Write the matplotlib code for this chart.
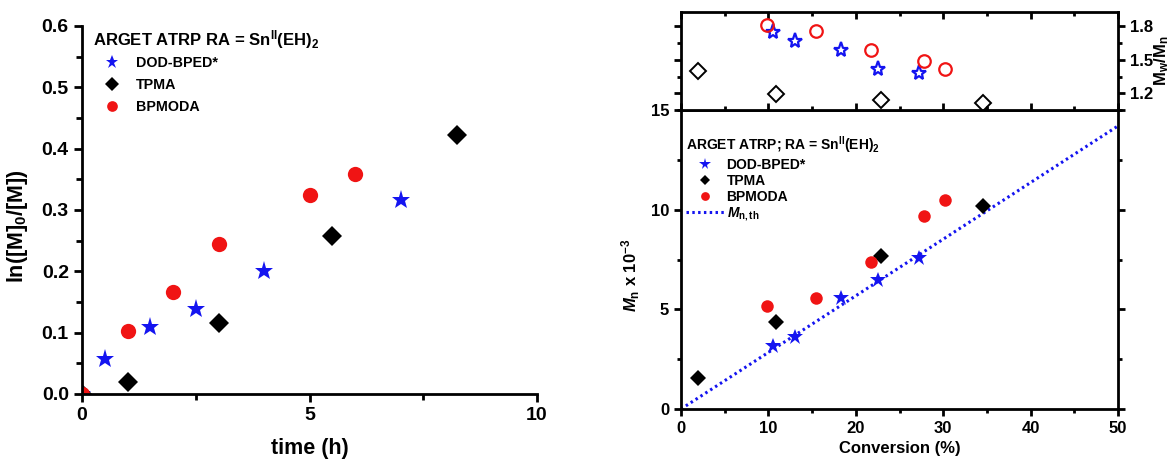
import matplotlib

matplotlib.use("Agg")
import matplotlib.pyplot as plt
from matplotlib.ticker import MultipleLocator

plt.rcParams["font.family"] = ["Liberation Sans", "DejaVu Sans"]
plt.rcParams["font.weight"] = "bold"
plt.rcParams["mathtext.fontset"] = "custom"
plt.rcParams["mathtext.rm"] = "Liberation Sans:bold"
plt.rcParams["mathtext.it"] = "Liberation Sans:italic:bold"
plt.rcParams["mathtext.bf"] = "Liberation Sans:bold"
plt.rcParams["mathtext.default"] = "rm"

# kinetics: ln([M]0/[M]) vs time
t_dod = [0, 0.5, 1.5, 2.5, 4.0, 7.0]
k_dod = [0, 0.057, 0.110, 0.139, 0.200, 0.316]
t_tpma = [0, 1.0, 3.0, 5.5, 8.25]
k_tpma = [0, 0.019, 0.115, 0.258, 0.423]
t_bpm = [0, 1.0, 2.0, 3.0, 5.0, 6.0]
k_bpm = [0, 0.103, 0.167, 0.244, 0.324, 0.359]

# Mn x 10^-3 and Mw/Mn vs conversion
c_dod = [10.5, 13.0, 18.3, 22.5, 27.2]
mn_dod = [3.16, 3.60, 5.57, 6.47, 7.60]
mw_dod = [1.75, 1.67, 1.59, 1.42, 1.38]
c_tpma = [1.9, 10.9, 22.9, 34.6]
mn_tpma = [1.57, 4.36, 7.69, 10.17]
mw_tpma = [1.40, 1.19, 1.14, 1.11]
c_bpm = [9.8, 15.4, 21.7, 27.8, 30.2]
mn_bpm = [5.17, 5.57, 7.38, 9.68, 10.50]
mw_bpm = [1.81, 1.76, 1.59, 1.49, 1.42]

c_th = [0, 50]
mn_th = [0, 14.2]

BLUE = "#1414f0"
RED = "#f01414"
W, H = 1171, 462

fig = plt.figure(figsize=(W / 100, H / 100), dpi=100)


def box(l, t, r, b):
    return [l / W, 1 - b / H, (r - l) / W, (b - t) / H]


# ---- left: kinetics ----
ax = fig.add_axes(box(82, 26, 537, 394))
ax.plot(t_dod, k_dod, "*", color=BLUE, ms=14, mew=0, label="DOD-BPED*")
ax.plot(t_tpma, k_tpma, "D", color="black", ms=10, mew=0, label="TPMA")
ax.plot(t_bpm, k_bpm, "o", color=RED, ms=11, mew=0, label="BPMODA")
ax.set_xlim(0, 10)
ax.set_ylim(0, 0.6)
ax.xaxis.set_major_locator(MultipleLocator(5))
ax.xaxis.set_minor_locator(MultipleLocator(2.5))
ax.yaxis.set_major_locator(MultipleLocator(0.1))
ax.yaxis.set_minor_locator(MultipleLocator(0.05))
for s in ("top", "right"):
    ax.spines[s].set_visible(False)
for s in ("left", "bottom"):
    ax.spines[s].set_linewidth(2)
ax.tick_params(which="major", direction="out", length=6, width=2, labelsize=14)
ax.tick_params(which="minor", direction="out", length=4, width=2)
ax.set_xlabel("time (h)", fontsize=15.5, fontweight="bold", labelpad=10)
ax.set_ylabel("ln([M]$_0$/[M])", fontsize=15.5, fontweight="bold")
ax.yaxis.set_label_coords(-0.114, 0.457)
leg = ax.legend(loc="upper left", bbox_to_anchor=(0.024, 0.995), frameon=False,
                fontsize=10.3, title="ARGET ATRP RA = Sn$^{\\mathrm{II}}$(EH)$_2$",
                title_fontsize=12, alignment="left", handlelength=2.6,
                handletextpad=0.4, borderaxespad=0, borderpad=0,
                labelspacing=0.55, markerscale=0.7)
leg.get_title().set_fontweight("bold")
leg._legend_box.sep = 4

# ---- right bottom: Mn vs conversion ----
axb = fig.add_axes(box(681, 110, 1118, 409))
axb.plot(c_dod, mn_dod, "*", color=BLUE, ms=12, mew=0, label="DOD-BPED*", zorder=3)
axb.plot(c_tpma, mn_tpma, "D", color="black", ms=8, mew=0, label="TPMA", zorder=3)
axb.plot(c_bpm, mn_bpm, "o", color=RED, ms=9, mew=0, label="BPMODA", zorder=3)
axb.plot(c_th, mn_th, color=BLUE, lw=2.2, linestyle=(0, (0.8, 1.1)),
         label="$\\mathit{M}_{\\mathrm{n,th}}$")
axb.set_xlim(0, 50)
axb.set_ylim(0, 15)
axb.xaxis.set_major_locator(MultipleLocator(10))
axb.xaxis.set_minor_locator(MultipleLocator(5))
axb.yaxis.set_major_locator(MultipleLocator(5))
axb.yaxis.set_minor_locator(MultipleLocator(2.5))
for s in axb.spines.values():
    s.set_linewidth(2)
axb.tick_params(which="both", top=True, right=True, width=2)
axb.tick_params(axis="x", which="both", direction="out", labelsize=12)
axb.tick_params(axis="y", which="both", direction="out", labelsize=12)
axb.tick_params(which="major", length=5)
axb.tick_params(which="minor", length=3)
axb.set_xlabel("Conversion (%)", fontsize=12, fontweight="bold")
axb.set_ylabel("$\\mathit{M}_{\\mathrm{n}}$ x 10$^{-3}$", fontsize=12, fontweight="bold")
axb.yaxis.set_label_coords(-0.09, 0.448)
leg2 = axb.legend(loc="upper left", bbox_to_anchor=(0.012, 0.92), frameon=False,
                  fontsize=10, title="ARGET ATRP; RA = Sn$^{\\mathrm{II}}$(EH)$_2$",
                  title_fontsize=10, alignment="left", handlelength=2.7,
                  handletextpad=0.2, borderaxespad=0, borderpad=0,
                  labelspacing=0.15, markerscale=0.7)
leg2.get_title().set_fontweight("bold")

# ---- right top: dispersity ----
axt = fig.add_axes(box(681, 12, 1118, 110), sharex=axb)
axt.plot(c_dod, mw_dod, "*", color=BLUE, ms=11, mfc="none", mew=1.6)
axt.plot(c_tpma, mw_tpma, "D", color="black", ms=8, mfc="none", mew=1.4)
axt.plot(c_bpm, mw_bpm, "o", color=RED, ms=9, mfc="none", mew=1.6)
axt.set_ylim(1.05, 1.93)
axt.yaxis.set_major_locator(MultipleLocator(0.3))
axt.yaxis.set_minor_locator(MultipleLocator(0.15))
for s in axt.spines.values():
    s.set_linewidth(2)
axt.tick_params(axis="x", which="both", top=True, bottom=True, direction="in",
                labelbottom=False, width=2)
axt.tick_params(axis="y", which="both", left=True, right=True, labelleft=False,
                labelright=True, direction="out", width=2, labelsize=12)
axt.tick_params(which="major", length=5)
axt.tick_params(which="minor", length=3)
axt.yaxis.set_label_position("right")
axt.set_ylabel("M$_w$/M$_n$", fontsize=12, fontweight="bold")
axt.yaxis.set_label_coords(1.078, 0.5)

fig.savefig("out.png", dpi=100)
